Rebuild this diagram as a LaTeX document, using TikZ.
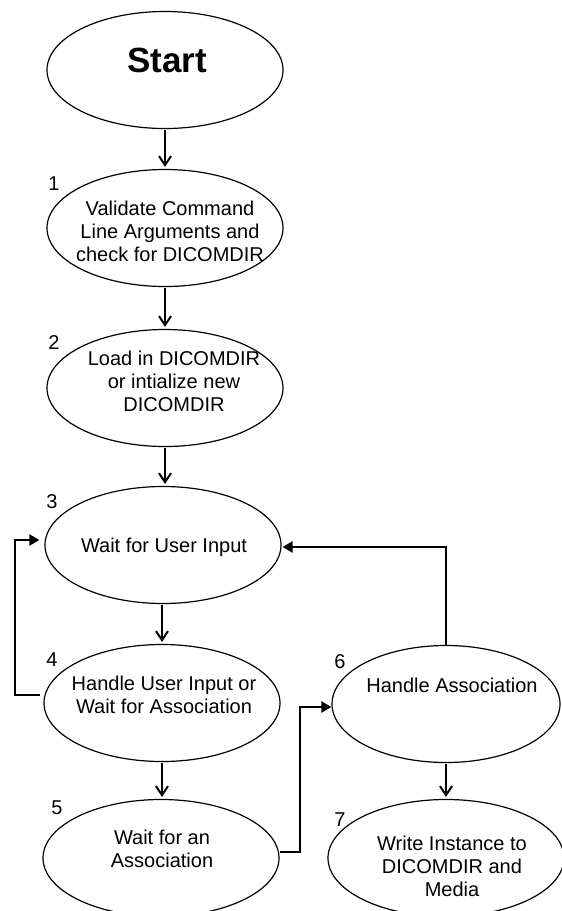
\documentclass[tikz,border=0pt]{standalone}
\usepackage{fontspec}
\setmainfont{Liberation Sans}
\usetikzlibrary{shapes.geometric,arrows.meta}
\begin{document}
\begin{tikzpicture}[x=1pt,y=-1pt,
  state/.style={draw=black,line width=1.2pt,ellipse,minimum width=236pt,minimum height=117pt,inner sep=0pt},
  txt/.style={font=\fontsize{20}{23}\selectfont,align=center,inner sep=0pt},
  num/.style={font=\fontsize{20}{23}\selectfont,inner sep=0pt},
  flow/.style={line width=2.2pt,-{Straight Barb[length=9pt,width=12pt,line width=2pt]}},
  loopline/.style={line width=2.2pt,-{Triangle[length=10pt,width=11pt]}}]
\useasboundingbox (0,0) rectangle (562,911);
% ellipses
\node[state] (s) at (165,70) {};
\node[state] (n1) at (165,228) {};
\node[state] (n2) at (165,388) {};
\node[state] (n3) at (163,545) {};
\node[state] (n4) at (162,703) {};
\node[state] (n5) at (161,858) {};
\node[state,minimum width=228pt] (n6) at (446,704) {};
\node[state] (n7) at (446,858) {};
% texts
\node[inner sep=0pt,font=\fontsize{35}{40}\selectfont\bfseries] (ts) at (167,60) {Start};
\node[txt] (t1) at (170,231) {Validate Command\\Line Arguments and\\check for DICOMDIR};
\node[txt] (t2) at (174,381) {Load in DICOMDIR\\or intialize new\\DICOMDIR};
\node[txt] (t3) at (164,547) {Wait for User Input};
\node[txt] (t4) at (164,695) {Handle User Input or\\Wait for Association};
\node[txt] (t5) at (162,849) {Wait for an\\Association};
\node[txt] (t6) at (452,685) {Handle Association};
\node[txt] (t7) at (452,866) {Write Instance to\\DICOMDIR and\\Media};
% numbers
\node[num] (l1) at (54,184) {1};
\node[num] (l2) at (54,343) {2};
\node[num] (l3) at (52,502) {3};
\node[num] (l4) at (52,660) {4};
\node[num] (l5) at (57,808) {5};
\node[num] (l6) at (340,662) {6};
\node[num] (l7) at (340,820) {7};
% connectors
\draw[flow] ([yshift=-1pt]s.south) -- ([yshift=2pt]n1.north);
\draw[flow] ([yshift=-1pt]n1.south) -- ([yshift=2pt]n2.north);
\draw[flow] ([yshift=-1pt]n2.south) -- ([yshift=2pt]n2.south |- n3.north);
\draw[flow] ([yshift=-1pt]n4.north |- n3.south) -- ([yshift=2pt]n4.north);
\draw[flow] ([yshift=-1pt]n4.south) -- ([yshift=2pt]n4.south |- n5.north);
\draw[flow] ([yshift=-1pt]n6.south) -- ([yshift=2pt]n7.north);
\draw[loopline] ([yshift=8pt,xshift=-3pt]n4.west) -- (15,695) |- ([yshift=5pt,xshift=-5pt]n3.west);
\draw[loopline] (n6.north) |- ([xshift=1pt,yshift=-2pt]n3.east);
\draw[loopline] ([yshift=6pt]n5.east) -- (300,852) |- ([yshift=-3pt]n6.west);
\end{tikzpicture}
\end{document}
